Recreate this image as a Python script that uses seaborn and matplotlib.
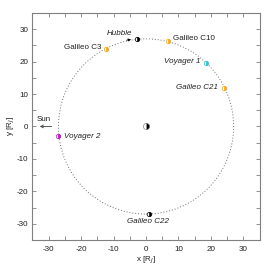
import matplotlib
matplotlib.use("Agg")
import matplotlib.pyplot as plt
import matplotlib.patches as mpatches
from matplotlib.ticker import MultipleLocator
import seaborn as sns

# spacecraft positions [R_J]
names = ["Hubble", "Galileo C3", "Galileo C10", "Voyager 1",
         "Galileo C21", "Voyager 2", "Galileo C22"]
xs = [-2.8, -12.3, 6.8, 18.5, 24.0, -27.0, 1.0]
ys = [27.1, 24.0, 26.2, 19.7, 12.0, -3.0, -27.0]
colors = ["black", "#ffa500", "#ffa500", "#20c8d8", "#ffa500", "#d000d0", "black"]

# label placement: (x, y, ha, italic)
labels = {
    "Hubble": (-8.3, 28.6, "center", True),
    "Galileo C3": (-13.6, 24.4, "right", False),
    "Galileo C10": (8.2, 27.0, "left", False),
    "Voyager 1": (16.9, 20.0, "right", True),
    "Galileo C21": (22.2, 12.0, "right", True),
    "Voyager 2": (-25.2, -3.0, "left", True),
    "Galileo C22": (0.6, -29.2, "center", True),
}

orbit_radius = 27.0

sns.set_theme(style="ticks")
plt.rcParams["font.family"] = ["Liberation Sans", "DejaVu Sans"]
plt.rcParams["axes.unicode_minus"] = False

fig, ax = plt.subplots(figsize=(2.74, 2.74), dpi=100)
fig.subplots_adjust(left=0.117, right=0.949, top=0.953, bottom=0.124)

# orbit
ax.add_patch(mpatches.Circle((0, 0), orbit_radius, fill=False, ls=(0, (1, 2)),
                             lw=0.7, color="#707070"))

# Jupiter
ax.plot(0, 0, "o", ms=4.5, fillstyle="right", color="black",
        markerfacecoloralt="white", mec="#707070", mew=0.4)

for n, x, y, c in zip(names, xs, ys, colors):
    ax.plot(x, y, "o", ms=3.2, fillstyle="right", color=c,
            markerfacecoloralt="white", mec=c, mew=0.5)
    lx, ly, ha, it = labels[n]
    ax.text(lx, ly, n, fontsize=5.8, ha=ha, va="center",
            style="italic" if it else "normal", color="#202020")

# Hubble pointer
ax.annotate("", xy=(-3.8, 27.0), xytext=(-6.8, 26.4),
            arrowprops=dict(arrowstyle="-|>", lw=0.5, color="black",
                            mutation_scale=4))

# direction to the Sun
ax.annotate("", xy=(-33.6, 0), xytext=(-28.2, 0),
            arrowprops=dict(arrowstyle="->", lw=0.6, color="#404040",
                            mutation_scale=5))
ax.text(-31.4, 2.2, "Sun", fontsize=5.8, ha="center", va="center", color="#202020")

ax.set_xlim(-35, 35)
ax.set_ylim(-35, 35)
ax.set_aspect("equal")
ax.xaxis.set_major_locator(MultipleLocator(10))
ax.yaxis.set_major_locator(MultipleLocator(10))
ax.xaxis.set_minor_locator(MultipleLocator(5))
ax.yaxis.set_minor_locator(MultipleLocator(5))
ax.tick_params(which="both", direction="in", top=True, right=True,
               length=3, width=0.6, color="#808080", labelsize=5.8,
               labelcolor="#202020", pad=4)
ax.tick_params(axis="y", pad=3)
for s in ax.spines.values():
    s.set_color("#808080")
    s.set_linewidth(0.8)

ax.set_xlabel("x [R$_J$]", fontsize=5.8, color="#202020", labelpad=2)
ax.set_ylabel("y [R$_J$]", fontsize=5.8, color="#202020", labelpad=0)

fig.savefig("out.png", dpi=100)
